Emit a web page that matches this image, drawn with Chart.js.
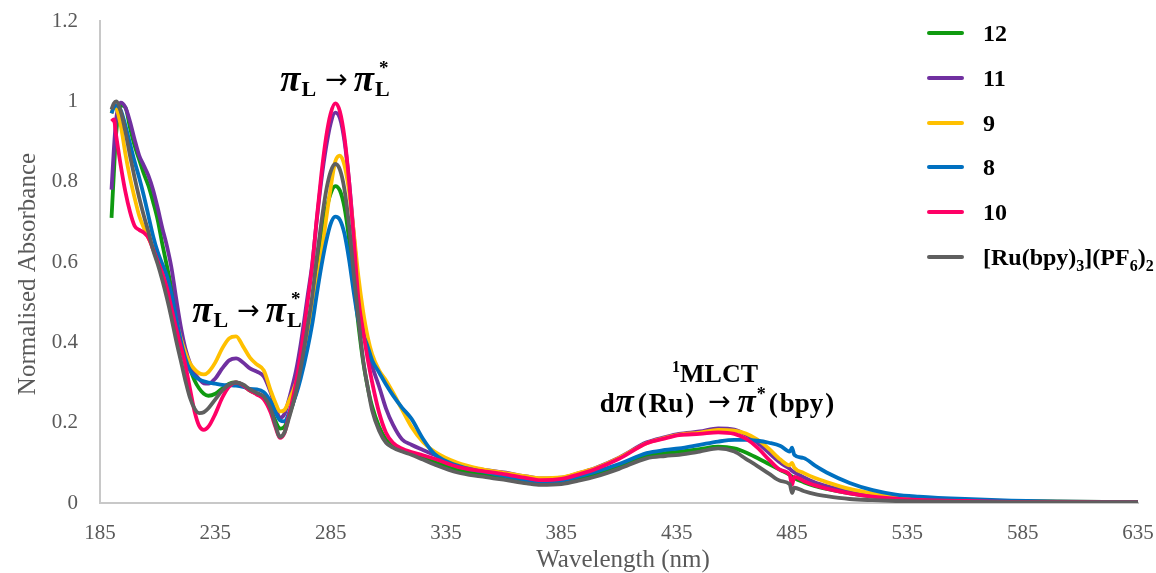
<!DOCTYPE html>
<html>
<head>
<meta charset="utf-8">
<script src="https://cdn.jsdelivr.net/npm/chart.js@4/dist/chart.umd.min.js"></script>
<style>
  html, body { margin: 0; padding: 0; background: #ffffff; }
  canvas { display: block; }
</style>
</head>
<body>
<canvas id="spectra" width="1156" height="573"></canvas>
<script>
// Wavelength grid (nm) shared by every spectrum
const wavelengths = [190,191,192,194,196,198,200,202,204,206,208,210,212,214,216,218,220,222,224,226,
  228,230,232,235,238,241,244,247,250,253,256,259,261,263,265,267,270,272,275,277,
  279,281,283,285,287,289,291,293,295,297,299,301,303,306,309,312,316,320,325,330,
  340,350,360,370,376,385,393,400,410,422,430,436,445,453,460,465,470,475,480,484,
  485,486,490,495,500,510,520,530,540,560,580,600,620,635];

// Normalised absorbance for each complex
const abs12 = [0.71,0.82,0.92,0.99,0.985,0.935,0.89,0.855,0.82,0.79,0.75,0.705,0.645,0.59,0.535,0.48,0.42,0.372,0.335,0.305,
  0.285,0.272,0.267,0.272,0.285,0.297,0.30,0.293,0.28,0.272,0.262,0.232,0.205,0.185,0.19,0.218,0.275,0.325,0.425,0.49,
  0.575,0.655,0.725,0.77,0.789,0.778,0.735,0.655,0.55,0.445,0.355,0.29,0.24,0.19,0.158,0.142,0.13,0.122,0.112,0.102,
  0.082,0.072,0.064,0.053,0.049,0.051,0.06,0.07,0.09,0.117,0.124,0.128,0.134,0.14,0.136,0.126,0.112,0.097,0.082,0.07,
  0.066,0.062,0.052,0.042,0.035,0.024,0.016,0.011,0.008,0.005,0.004,0.003,0.003,0.002];

const abs11 = [0.78,0.88,0.955,0.997,0.985,0.95,0.905,0.865,0.84,0.815,0.78,0.735,0.685,0.64,0.585,0.51,0.44,0.385,0.348,0.323,
  0.308,0.298,0.297,0.31,0.335,0.355,0.36,0.35,0.335,0.327,0.315,0.275,0.24,0.212,0.222,0.26,0.33,0.395,0.515,0.595,
  0.705,0.805,0.885,0.945,0.972,0.958,0.9,0.8,0.67,0.535,0.44,0.38,0.34,0.29,0.235,0.195,0.158,0.145,0.132,0.12,
  0.094,0.084,0.076,0.066,0.061,0.063,0.075,0.088,0.113,0.151,0.164,0.172,0.178,0.186,0.183,0.17,0.15,0.125,0.1,0.085,
  0.08,0.076,0.064,0.051,0.042,0.028,0.019,0.013,0.01,0.006,0.004,0.003,0.003,0.002];

const abs9 = [0.97,0.99,0.985,0.94,0.87,0.81,0.76,0.715,0.685,0.66,0.635,0.61,0.58,0.553,0.505,0.455,0.41,0.375,0.348,0.333,
  0.323,0.32,0.326,0.35,0.385,0.41,0.415,0.39,0.362,0.345,0.33,0.28,0.25,0.228,0.232,0.255,0.3,0.34,0.415,0.47,
  0.54,0.62,0.705,0.785,0.85,0.865,0.84,0.775,0.675,0.565,0.48,0.415,0.37,0.33,0.305,0.275,0.232,0.19,0.152,0.128,
  0.1,0.085,0.075,0.066,0.062,0.064,0.076,0.087,0.112,0.149,0.162,0.17,0.175,0.182,0.18,0.173,0.158,0.135,0.108,0.094,
  0.1,0.088,0.075,0.062,0.052,0.035,0.024,0.016,0.012,0.007,0.005,0.004,0.003,0.003];

const abs8 = [0.97,0.985,0.99,0.978,0.94,0.895,0.85,0.81,0.765,0.715,0.665,0.625,0.595,0.565,0.52,0.46,0.405,0.36,0.33,0.316,
  0.308,0.303,0.3,0.297,0.294,0.293,0.292,0.289,0.284,0.283,0.276,0.252,0.226,0.206,0.203,0.225,0.27,0.31,0.385,0.445,
  0.52,0.59,0.65,0.695,0.713,0.705,0.67,0.605,0.525,0.455,0.42,0.39,0.355,0.325,0.295,0.268,0.237,0.21,0.16,0.122,
  0.093,0.079,0.068,0.057,0.053,0.056,0.067,0.078,0.097,0.124,0.132,0.136,0.145,0.153,0.157,0.157,0.155,0.15,0.142,0.128,
  0.138,0.12,0.112,0.093,0.076,0.05,0.032,0.021,0.016,0.01,0.006,0.004,0.003,0.003];

const abs10 = [0.95,0.955,0.915,0.84,0.775,0.725,0.69,0.68,0.673,0.66,0.632,0.602,0.572,0.535,0.485,0.435,0.39,0.343,0.285,0.228,
  0.192,0.182,0.19,0.222,0.262,0.29,0.3,0.293,0.28,0.27,0.258,0.225,0.19,0.162,0.175,0.22,0.3,0.37,0.5,0.59,
  0.71,0.82,0.91,0.97,0.995,0.975,0.91,0.8,0.66,0.51,0.43,0.36,0.3,0.225,0.175,0.15,0.135,0.127,0.119,0.11,
  0.09,0.08,0.072,0.062,0.057,0.06,0.072,0.085,0.11,0.149,0.161,0.169,0.172,0.176,0.172,0.16,0.138,0.108,0.082,0.07,
  0.045,0.065,0.055,0.044,0.036,0.024,0.016,0.011,0.008,0.005,0.003,0.003,0.002,0.002];

const absRu = [0.98,0.995,1.0,0.975,0.925,0.865,0.81,0.76,0.715,0.675,0.63,0.595,0.555,0.51,0.46,0.405,0.355,0.305,0.262,0.235,
  0.224,0.226,0.236,0.258,0.28,0.295,0.3,0.295,0.283,0.274,0.265,0.235,0.195,0.165,0.176,0.213,0.277,0.335,0.44,0.515,
  0.612,0.7,0.776,0.825,0.844,0.83,0.78,0.69,0.57,0.46,0.36,0.29,0.23,0.18,0.15,0.138,0.128,0.12,0.108,0.096,
  0.076,0.066,0.058,0.049,0.045,0.047,0.056,0.066,0.085,0.111,0.117,0.12,0.128,0.136,0.128,0.11,0.092,0.073,0.055,0.047,
  0.025,0.038,0.03,0.022,0.017,0.01,0.007,0.005,0.004,0.003,0.002,0.002,0.002,0.002];

// Legend labels ("_x" marks a subscript character)
const seriesLabels = ['12', '11', '9', '8', '10', '[Ru(bpy)_3](PF_6)_2'];
const seriesColors = ['#0f9a10', '#7030a0', '#ffc000', '#0070c0', '#ff0066', '#5f5f5f'];
const seriesValues = [abs12, abs11, abs9, abs8, abs10, absRu];

// Axis ticks
const xTicks = [185, 235, 285, 335, 385, 435, 485, 535, 585, 635];
const yTicks = [0, 0.2, 0.4, 0.6, 0.8, 1, 1.2];

const SERIF = '"Liberation Serif", "Times New Roman", serif';
const AXIS_GREY = '#595959';

// Lower "order" is painted later, i.e. on top
const drawOrder = [5, 4, 3, 2, 1, 0];

const datasets = seriesValues.map((vals, s) => ({
  label: seriesLabels[s],
  data: wavelengths.map((w, i) => ({ x: w, y: vals[i] })),
  borderColor: seriesColors[s],
  backgroundColor: seriesColors[s],
  borderWidth: 3.8,
  pointRadius: 0,
  fill: false,
  cubicInterpolationMode: 'monotone',
  order: drawOrder[s]
}));

// Draws a row of text runs with individual fonts, offsets and gaps
function drawRuns(ctx, runs, x, baseline, align) {
  let total = 0;
  runs.forEach(r => {
    ctx.font = r.font;
    r.w = ctx.measureText(r.t).width;
    if (!r.stack) total += r.w + (r.gap || 0);
  });
  let cx = align === 'center' ? x - total / 2 : x;
  runs.forEach(r => {
    ctx.font = r.font;
    ctx.fillText(r.t, cx + (r.dx || 0), baseline + (r.dy || 0));
    if (!r.stack) cx += r.w + (r.gap || 0);
  });
}

function labelRuns(label, size) {
  const runs = [];
  const main = `bold ${size}px ${SERIF}`;
  const sub = `bold ${Math.round(size * 0.65)}px ${SERIF}`;
  let buf = '';
  for (let i = 0; i < label.length; i++) {
    if (label[i] === '_') {
      if (buf) { runs.push({ t: buf, font: main }); buf = ''; }
      runs.push({ t: label[i + 1], font: sub, dy: 6 });
      i++;
    } else {
      buf += label[i];
    }
  }
  if (buf) runs.push({ t: buf, font: main });
  return runs;
}

const overlayPlugin = {
  id: 'spectraOverlay',
  afterDraw(chart) {
    const ctx = chart.ctx;
    const area = chart.chartArea;
    ctx.save();

    // Axis titles
    ctx.fillStyle = AXIS_GREY;
    ctx.font = `25px ${SERIF}`;
    ctx.textAlign = 'center';
    ctx.textBaseline = 'middle';
    ctx.fillText('Wavelength (nm)', (area.left + area.right) / 2 + 4, 560);
    ctx.save();
    ctx.translate(28, 274);
    ctx.rotate(-Math.PI / 2);
    ctx.fillText('Normalised Absorbance', 0, 0);
    ctx.restore();

    // Legend
    ctx.textAlign = 'left';
    ctx.textBaseline = 'alphabetic';
    const rowY = [33, 78, 123, 167, 212, 257];
    seriesLabels.forEach((lab, i) => {
      ctx.strokeStyle = seriesColors[i];
      ctx.lineWidth = 4;
      ctx.lineCap = 'round';
      ctx.beginPath();
      ctx.moveTo(929, rowY[i]);
      ctx.lineTo(962, rowY[i]);
      ctx.stroke();
      ctx.fillStyle = '#000000';
      drawRuns(ctx, labelRuns(lab, 24), 983, rowY[i] + 8, 'left');
    });

    // Band assignments
    ctx.fillStyle = '#000000';
    const piF = `bold italic 37px ${SERIF}`;
    const subF = `bold 22px ${SERIF}`;
    const arrF = '27px "DejaVu Sans"';
    const starF = `bold 19px ${SERIF}`;
    const piPi = [
      { t: '\u03C0', font: piF, gap: 1 },
      { t: 'L', font: subF, dy: 5, gap: 9 },
      { t: '\u2192', font: arrF, dy: -3, gap: 6 },
      { t: '\u03C0', font: piF, gap: 1 },
      { t: '*', font: starF, dy: -17, stack: true, dx: 4 },
      { t: 'L', font: subF, dy: 5 }
    ];
    drawRuns(ctx, piPi, 335, 91, 'center');
    drawRuns(ctx, piPi, 247, 322, 'center');

    const bigF = `bold 26px ${SERIF}`;
    const mathF = `bold 27px ${SERIF}`;
    const piM = `bold italic 33px ${SERIF}`;
    drawRuns(ctx, [
      { t: '1', font: `bold 16px ${SERIF}`, dy: -10 },
      { t: 'MLCT', font: bigF }
    ], 715, 382, 'center');
    drawRuns(ctx, [
      { t: 'd', font: mathF, gap: 1 },
      { t: '\u03C0', font: piM, gap: 4 },
      { t: '(', font: mathF, gap: 2 },
      { t: 'Ru', font: mathF, gap: 2 },
      { t: ')', font: mathF, gap: 14 },
      { t: '\u2192', font: arrF, dy: -2, gap: 7 },
      { t: '\u03C0', font: piM, gap: 1 },
      { t: '*', font: `bold 18px ${SERIF}`, dy: -12, gap: 3 },
      { t: '(', font: mathF, gap: 2 },
      { t: 'bpy', font: mathF, gap: 2 },
      { t: ')', font: mathF }
    ], 717, 412, 'center');

    ctx.restore();
  }
};

new Chart(document.getElementById('spectra'), {
  type: 'line',
  data: { datasets },
  options: {
    responsive: false,
    animation: false,
    events: [],
    layout: { padding: { left: 0, right: 18, top: 21, bottom: 0 } },
    plugins: {
      legend: { display: false },
      tooltip: { enabled: false }
    },
    scales: {
      x: {
        type: 'linear',
        min: 185,
        max: 635,
        afterBuildTicks: s => { s.ticks = xTicks.map(v => ({ value: v })); },
        afterFit: s => { s.height = 70; s.paddingLeft = 0; s.paddingRight = 0; },
        grid: { display: false, drawTicks: false },
        border: { display: true, color: '#c8c8c8', width: 2 },
        ticks: {
          autoSkip: false,
          maxRotation: 0,
          padding: 18,
          color: AXIS_GREY,
          font: { family: SERIF, size: 21 },
          callback: v => String(v)
        }
      },
      y: {
        min: 0,
        max: 1.2,
        afterBuildTicks: s => { s.ticks = yTicks.map(v => ({ value: v })); },
        afterFit: s => { s.width = 100; s.paddingTop = 0; s.paddingBottom = 0; },
        grid: { display: false, drawTicks: false },
        border: { display: true, color: '#c8c8c8', width: 2 },
        ticks: {
          padding: 22,
          color: AXIS_GREY,
          font: { family: SERIF, size: 21 },
          callback: v => String(Math.round(v * 10) / 10)
        }
      }
    }
  },
  plugins: [overlayPlugin]
});
</script>
</body>
</html>
